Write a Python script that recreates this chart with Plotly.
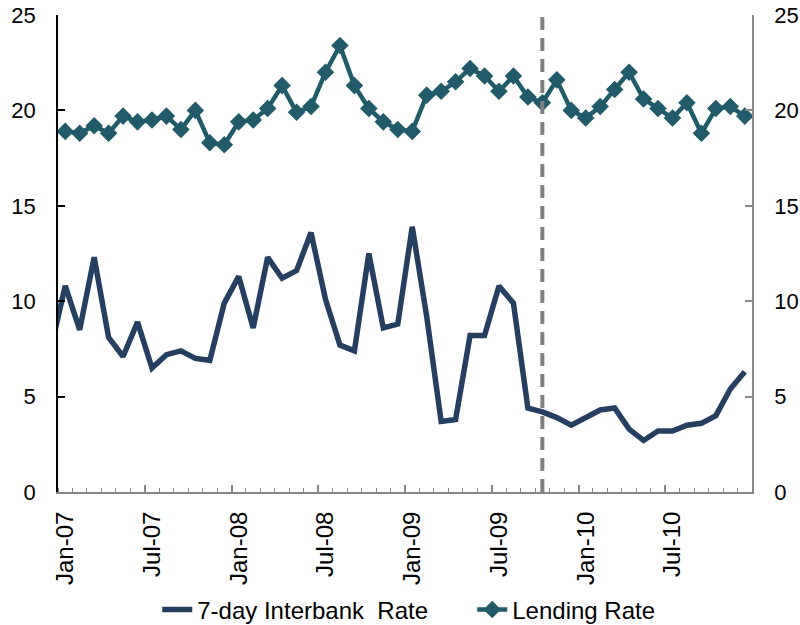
import plotly.graph_objects as go

# Monthly data, Jan-07 .. Dec-10 (48 months)
months = [f"{m}-{y:02d}" for y in range(7, 11) for m in
          ["Jan", "Feb", "Mar", "Apr", "May", "Jun", "Jul", "Aug", "Sep", "Oct", "Nov", "Dec"]]

# 7-day interbank rate (first value is Dec-06, partly visible at the left edge)
interbank_dec06 = 7.5
interbank = [10.8, 8.5, 12.3, 8.1, 7.1, 8.9, 6.5, 7.2, 7.4, 7.0, 6.9, 9.9,
             11.3, 8.6, 12.3, 11.2, 11.6, 13.6, 10.1, 7.7, 7.4, 12.5, 8.6, 8.8,
             13.9, 9.2, 3.7, 3.8, 8.2, 8.2, 10.8, 9.9, 4.4, 4.2, 3.9, 3.5,
             3.9, 4.3, 4.4, 3.3, 2.7, 3.2, 3.2, 3.5, 3.6, 4.0, 5.4, 6.3]

lending = [18.9, 18.8, 19.2, 18.8, 19.7, 19.4, 19.5, 19.7, 19.0, 20.0, 18.3, 18.2,
           19.4, 19.5, 20.1, 21.3, 19.9, 20.2, 22.0, 23.4, 21.3, 20.1, 19.4, 19.0,
           18.9, 20.8, 21.0, 21.5, 22.2, 21.8, 21.0, 21.8, 20.7, 20.4, 21.6, 20.0,
           19.6, 20.2, 21.1, 22.0, 20.6, 20.1, 19.6, 20.4, 18.8, 20.1, 20.2, 19.7]

label_months = ["Jan-07", "Jul-07", "Jan-08", "Jul-08", "Jan-09", "Jul-09", "Jan-10", "Jul-10"]
marker_month = "Oct-09"
y_ticks = [0, 5, 10, 15, 20, 25]

idx = list(range(len(months)))
FONT = "Liberation Sans, Arial, sans-serif"
GRAY = "#888888"

fig = go.Figure()
fig.add_trace(go.Scatter(
    x=[-1] + idx, y=[interbank_dec06] + interbank, mode="lines",
    name="7-day Interbank\u00a0 Rate",
    line=dict(color="#243F60", width=5.5)))
fig.add_trace(go.Scatter(
    x=idx, y=lending, mode="lines+markers", name="Lending Rate",
    xaxis="x2", yaxis="y2",
    line=dict(color="#215A69", width=4.5),
    marker=dict(symbol="diamond", size=13.5, color="#215A69")))

mi = months.index(marker_month)
fig.add_shape(type="line", x0=mi, x1=mi, y0=0, y1=25, xref="x", yref="y",
              line=dict(color="#808080", width=4, dash="13px,8px"))

xr = [-0.5, len(months) - 0.5]
fig.update_layout(
    width=800, height=625,
    margin=dict(l=58, r=48, t=15, b=133, autoexpand=False),
    paper_bgcolor="white", plot_bgcolor="white",
    font=dict(family=FONT, size=22, color="black"),
    showlegend=True,
    legend=dict(orientation="h", x=0.143, xanchor="left", y=-0.247, yanchor="middle",
                font=dict(size=24), entrywidth=270, entrywidthmode="pixels",
                traceorder="normal"),
    xaxis=dict(range=xr, tickmode="array", automargin=False,
               tickvals=[months.index(m) for m in label_months], ticktext=label_months,
               tickangle=-90, ticks="", showgrid=False, zeroline=False,
               tickfont=dict(size=24),
               showline=True, linecolor=GRAY, linewidth=2,
               ticklabelstandoff=8,
               minor=dict(tickmode="array", tickvals=[k - 0.5 for k in range(len(months) + 1)],
                          ticks="inside", ticklen=4, tickcolor=GRAY, tickwidth=1, showgrid=False)),
    xaxis2=dict(range=xr, overlaying="x", anchor="y2", side="bottom", automargin=False,
                tickmode="array", tickvals=[k - 0.5 for k in range(0, len(months), 6)],
                ticks="inside", ticklen=7, tickcolor=GRAY, tickwidth=1.5,
                showticklabels=False, showgrid=False, zeroline=False, showline=False),
    yaxis=dict(range=[0, 25], tickmode="array", tickvals=y_ticks, automargin=False,
               ticks="inside", ticklen=7, tickcolor="black", tickwidth=1.5,
               showline=True, linecolor="black", linewidth=1.5,
               showgrid=False, zeroline=False, ticklabelstandoff=16),
    yaxis2=dict(range=[0, 25], tickmode="array", tickvals=y_ticks, overlaying="y",
                side="right", anchor="x", automargin=False,
                ticks="inside", ticklen=7, tickcolor=GRAY, tickwidth=1.5,
                showline=True, linecolor=GRAY, linewidth=1.5,
                showgrid=False, zeroline=False, ticklabelstandoff=16),
)

fig.write_html("out.html", config={"displayModeBar": False},
               post_script="document.body.style.margin='0';")
